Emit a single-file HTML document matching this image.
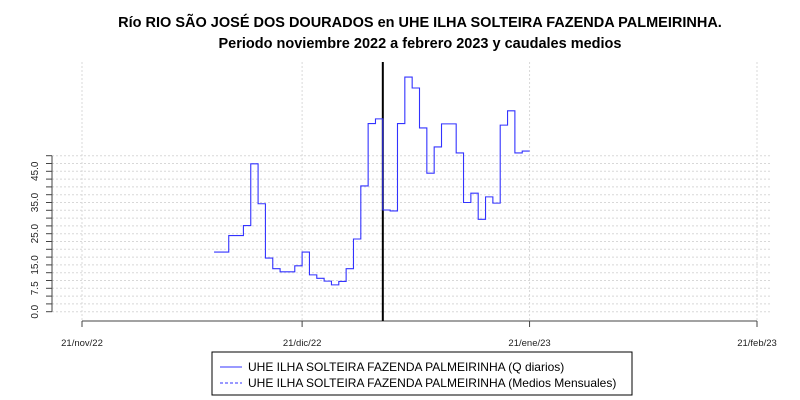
<!DOCTYPE html>
<html><head><meta charset="utf-8"><style>
body{margin:0;background:#fff;}
svg{display:block;font-family:"Liberation Sans",Arial,sans-serif;}
</style></head><body>
<svg id="chart" width="800" height="400" viewBox="0 0 800 400">
<text x="420" y="27" text-anchor="middle" font-size="14.5" font-weight="bold">Río RIO SÃO JOSÉ DOS DOURADOS en UHE ILHA SOLTEIRA FAZENDA PALMEIRINHA.</text>
<text x="420" y="48" text-anchor="middle" font-size="14.5" font-weight="bold">Periodo noviembre 2022 a febrero 2023 y caudales medios</text>
<g id="grid"></g>
<g id="axes"></g>
<g id="series"></g>
<g>
<rect x="212" y="352" width="420" height="43" fill="#fff" stroke="#000" stroke-width="1"/>
<line x1="220" y1="367" x2="242" y2="367" stroke="#3333ff" stroke-width="1"/>
<text x="248" y="371" font-size="12">UHE ILHA SOLTEIRA FAZENDA PALMEIRINHA (Q diarios)</text>
<line x1="220" y1="383" x2="242" y2="383" stroke="#3333ff" stroke-width="1" stroke-dasharray="3,2"/>
<text x="248" y="387" font-size="12">UHE ILHA SOLTEIRA FAZENDA PALMEIRINHA (Medios Mensuales)</text>
</g>
</svg>
<script>
const xTickLabels = ["21/nov/22","21/dic/22","21/ene/23","21/feb/23"];
const xTickDays = [0,30,61,92];
const yTickValues = [0,2.5,5,7.5,10,12.5,15,17.5,20,22.5,25,27.5,30,32.5,35,37.5,40,42.5,45,47.5,50];
const yTickLabels = ["0.0","7.5","15.0","25.0","35.0","45.0"];
const yLabelValues = [0,7.5,15,25,35,45];
const startDay = 18;
const flows = [19.1,19.1,24.4,24.4,27.6,47.4,34.6,17.2,13.8,12.8,12.8,14.7,19.1,11.8,10.7,9.8,8.6,9.7,13.8,23.3,40.3,60.3,61.8,32.6,32.3,60.3,75.2,71.7,58.9,44.4,52.8,60.2,60.2,50.9,35.0,38.0,29.6,36.8,34.8,59.8,64.4,50.9,51.5];
const markerDay = 41;

const NS="http://www.w3.org/2000/svg";
const xs = d => 82 + d*7.337;
const ys = v => 311.7 - v*3.12;
function mk(tag, attrs, parent){const e=document.createElementNS(NS,tag);for(const k in attrs)e.setAttribute(k,attrs[k]);parent.appendChild(e);return e;}
const grid=document.getElementById('grid'), axes=document.getElementById('axes'), series=document.getElementById('series');

yTickValues.forEach(v=>{
  const l=mk('line',{x1:52,x2:770,y1:ys(v),y2:ys(v),stroke:'#d8d8d8','stroke-dasharray':'2,2','stroke-width':1},grid);
  
  
  const t=mk('line',{x1:46,x2:52,y1:ys(v),y2:ys(v),stroke:'#444','stroke-width':1},axes);
  
  
});
const yax=mk('line',{x1:52,x2:52,y1:ys(0),y2:ys(50),stroke:'#444','stroke-width':1},axes);


yLabelValues.forEach((v,i)=>{
  const t=mk('text',{x:0,y:0,'font-size':10,'text-anchor':'middle',transform:`translate(38,${ys(v)}) rotate(-90)`,fill:'#222'},axes);
  t.textContent=yTickLabels[i];
  
  
});
xTickDays.forEach((d,i)=>{
  const g=mk('line',{x1:xs(d),x2:xs(d),y1:62,y2:321,stroke:'#d8d8d8','stroke-dasharray':'2,2','stroke-width':1},grid);
  
  
  const t=mk('line',{x1:xs(d),x2:xs(d),y1:321,y2:327,stroke:'#444','stroke-width':1},axes);
  
  
  const lb=mk('text',{x:xs(d),y:346,'font-size':9.5,'text-anchor':'middle',fill:'#222'},axes);
  lb.textContent=xTickLabels[i];
  
  
});
const xax=mk('line',{x1:xs(0),x2:xs(92),y1:321,y2:321,stroke:'#444','stroke-width':1},axes);



const mline=mk('line',{x1:xs(markerDay),x2:xs(markerDay),y1:62,y2:321,stroke:'#000','stroke-width':2},series);



let d='';
flows.forEach((v,i)=>{
  const x0=xs(startDay+i), x1=xs(startDay+i+1);
  d += (i===0?`M${x0},${ys(v)}`:`L${x0},${ys(v)}`) + `L${x1},${ys(v)}`;
});
const p=mk('path',{d:d,fill:'none',stroke:'#3333ff','stroke-width':1.1},series);


</script>
</body></html>
